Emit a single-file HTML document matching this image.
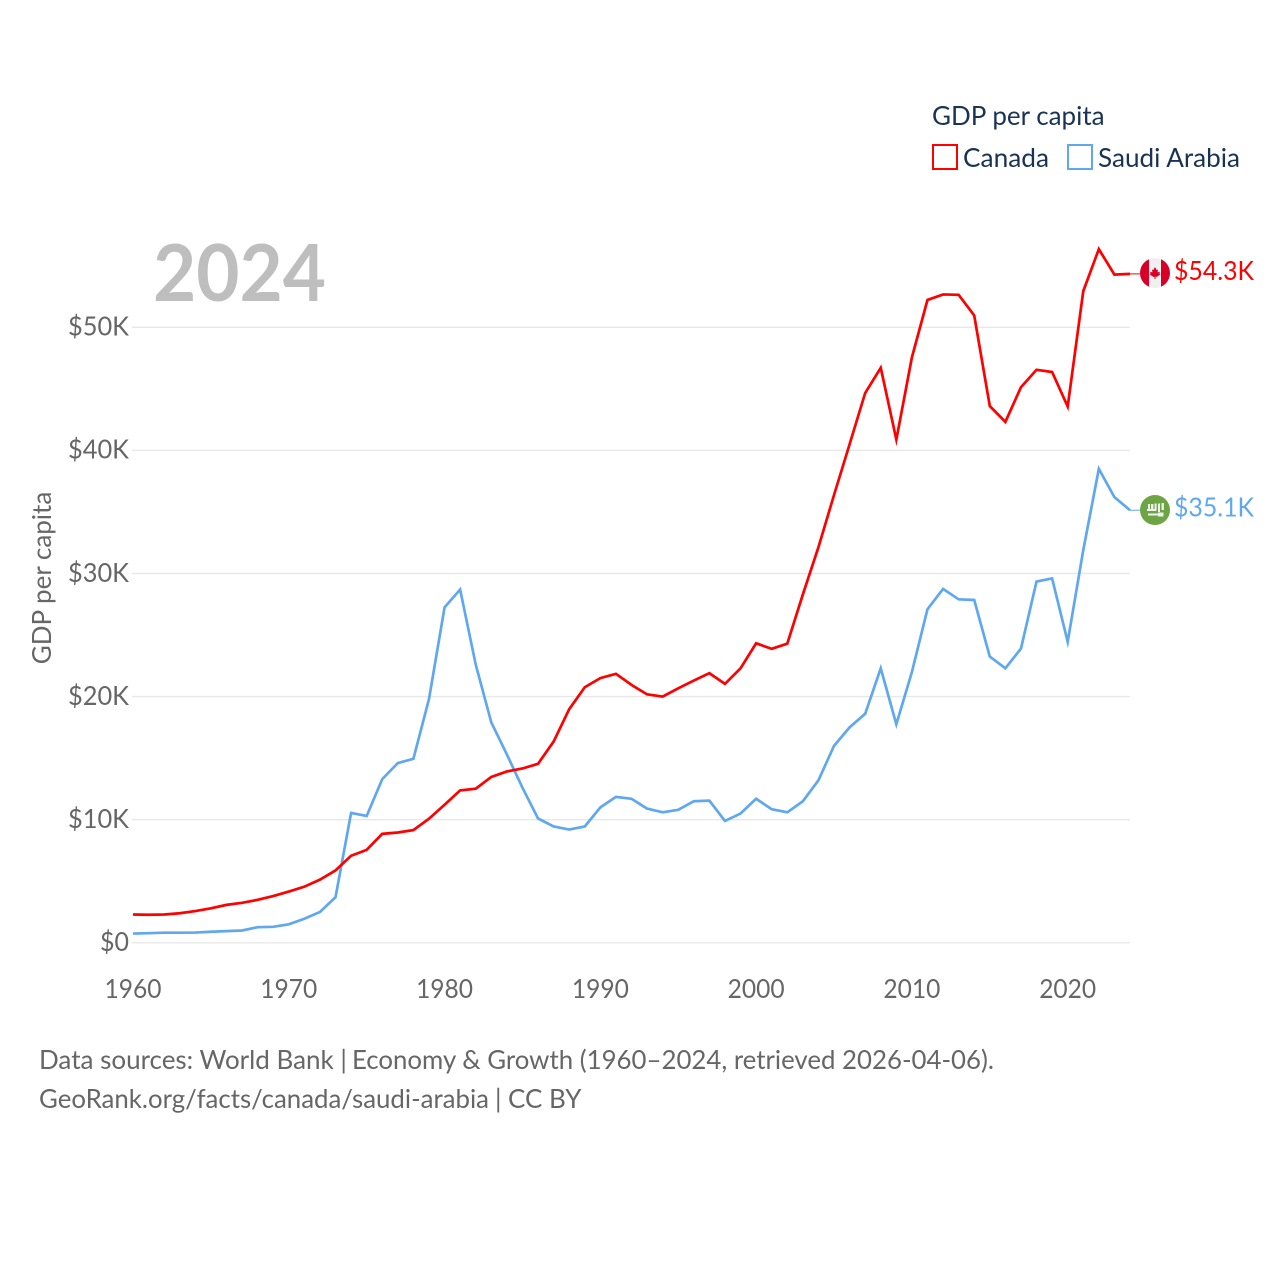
<!DOCTYPE html>
<html lang="en">
<head>
<meta charset="utf-8">
<title>GDP per capita: Canada and Saudi Arabia</title>
<style>
html,body{margin:0;padding:0;background:#fff;}
svg{display:block;font-family:"Lato","Carlito","Liberation Sans",sans-serif;}
</style>
</head>
<body>
<svg id="chart" xmlns="http://www.w3.org/2000/svg" width="1280" height="1280" viewBox="0 0 1280 1280">
  <rect x="0" y="0" width="1280" height="1280" fill="#fff"/>
  <g id="grid"></g>
  <g id="yticks"></g>
  <g id="xticks"></g>
  <text transform="translate(51,578) rotate(-90)" text-anchor="middle" font-size="26" fill="#666">GDP per capita</text>
  <text x="153" y="301" font-size="79" font-weight="700" fill="#bebebe" textLength="173" lengthAdjust="spacingAndGlyphs">2024</text>
  <g id="series"></g>
  <g>
    <text x="932" y="125" font-size="26" fill="#1a3354">GDP per capita</text>
    <g>
      <rect x="933" y="145" width="24" height="24" fill="#fff" stroke="#ff0000" stroke-width="2"/>
      <text x="963" y="167" font-size="26" fill="#1a3354" textLength="86" lengthAdjust="spacingAndGlyphs">Canada</text>
    </g>
    <g>
      <rect x="1068" y="145" width="24" height="24" fill="#fff" stroke="#5fa8ef" stroke-width="2"/>
      <text x="1098" y="167" font-size="26" fill="#1a3354" textLength="142" lengthAdjust="spacingAndGlyphs">Saudi Arabia</text>
    </g>
  </g>
  <g>
    <clipPath id="clipCa"><circle cx="1155" cy="273" r="15"/></clipPath>
    <g clip-path="url(#clipCa)">
      <rect x="1140" y="258" width="30" height="30" fill="#f0f0f0"/>
      <rect x="1140" y="258" width="9" height="30" fill="#d80027"/>
      <rect x="1161" y="258" width="9" height="30" fill="#d80027"/>
      <polygon fill="#d80027" points="1155,267 1156.6,270 1158,269.5 1157.6,272.4 1160,271.6 1159.4,273.4 1160.4,274.4 1156.4,277 1155.5,276.6 1155.5,279 1154.5,279 1154.5,276.6 1153.6,277 1149.6,274.4 1150.6,273.4 1150,271.6 1152.4,272.4 1152,269.5 1153.4,270"/>
    </g>
  </g>
  <g>
    <circle cx="1155" cy="510" r="15" fill="#6da544"/>
    <g fill="#f0f0f0">
      <rect x="1147" y="509" width="9" height="2"/>
      <rect x="1148" y="504" width="2" height="5"/>
      <rect x="1151" y="504" width="2.4" height="6"/>
      <rect x="1154.6" y="503.5" width="2" height="7"/>
      <rect x="1158" y="503.5" width="2" height="8.5"/>
      <rect x="1161.5" y="503" width="2.4" height="7"/>
      <rect x="1148" y="513.5" width="15" height="2"/>
      <rect x="1158" y="512.5" width="5.5" height="4"/>
    </g>
  </g>
  <g id="endLabels"></g>
  <g>
    <text x="39" y="1069" font-size="26" fill="#666">Data sources: World Bank |</text>
    <text x="352" y="1069" font-size="26" fill="#666" textLength="642" lengthAdjust="spacingAndGlyphs">Economy &amp; Growth (1960–2024, retrieved 2026-04-06).</text>
    <text x="39" y="1108" font-size="26" fill="#666" textLength="450" lengthAdjust="spacingAndGlyphs">GeoRank.org/facts/canada/saudi-arabia</text>
    <text x="495" y="1108" font-size="26" fill="#666">|</text>
    <text x="508" y="1108" font-size="26" fill="#666">CC BY</text>
  </g>
</svg>
<script>
const startYear = 1960;
const canada = [2.3,2.28,2.3,2.4,2.58,2.8,3.08,3.25,3.49,3.8,4.16,4.56,5.13,5.88,7.07,7.55,8.85,8.96,9.16,10.08,11.21,12.38,12.52,13.47,13.92,14.16,14.54,16.35,18.98,20.76,21.5,21.85,20.95,20.18,20.0,20.67,21.3,21.9,21.03,22.3,24.33,23.88,24.3,28.3,32.14,36.38,40.5,44.66,46.71,40.88,47.56,52.22,52.67,52.64,50.96,43.6,42.32,45.13,46.55,46.37,43.56,52.94,56.35,54.28,54.34];
const saudi = [0.75,0.78,0.82,0.82,0.83,0.9,0.95,1.0,1.27,1.3,1.5,1.95,2.5,3.7,10.55,10.3,13.3,14.6,14.95,19.8,27.25,28.7,22.6,17.9,15.3,12.6,10.1,9.45,9.2,9.45,11.0,11.85,11.7,10.9,10.6,10.8,11.5,11.55,9.9,10.5,11.7,10.85,10.6,11.5,13.2,16.0,17.5,18.6,22.3,17.75,22.0,27.1,28.75,27.9,27.85,23.25,22.3,23.9,29.35,29.6,24.45,31.9,38.5,36.2,35.14];
const yTickValues = [0,10,20,30,40,50];
const yTickLabels = ["$0","$10K","$20K","$30K","$40K","$50K"];
const xTickValues = [1960,1970,1980,1990,2000,2010,2020];
const xTickLabels = ["1960","1970","1980","1990","2000","2010","2020"];

const NS = "http://www.w3.org/2000/svg";
const plotLeft = 133, plotRight = 1130, plotBottom = 942.8, pxPerK = 12.31, endYear = 2024;
function xScale(year){ return plotLeft + (year - startYear) * (plotRight - plotLeft) / (endYear - startYear); }
function yScale(v){ return plotBottom - v * pxPerK; }
function make(tag, attrs, parent, txt){
  const el = document.createElementNS(NS, tag);
  for (const k in attrs) el.setAttribute(k, attrs[k]);
  if (txt !== undefined) el.textContent = txt;
  parent.appendChild(el);
  return el;
}
const gridG = document.getElementById("grid");
const yG = document.getElementById("yticks");
const xG = document.getElementById("xticks");
const seriesG = document.getElementById("series");
const endG = document.getElementById("endLabels");

yTickValues.forEach(function(v, i){
  const line = make("line", {x1: plotLeft - 1, x2: plotRight, y1: yScale(v), y2: yScale(v), stroke: "#e8e8e8", "stroke-width": 1.4}, gridG);
  
  
  const t = make("text", {x: 129, y: yScale(v) + 8.3, "text-anchor": "end", "font-size": 26, fill: "#666"}, yG, yTickLabels[i]);
  
  
  t.setAttribute("textLength", yTickLabels[i].length > 2 ? 61 : 29);
  t.setAttribute("lengthAdjust", "spacingAndGlyphs");
});
xTickValues.forEach(function(v, i){
  const t = make("text", {x: xScale(v), y: 998, "text-anchor": "middle", "font-size": 26, fill: "#666"}, xG, xTickLabels[i]);
  
  
  t.setAttribute("textLength", 57);
  t.setAttribute("lengthAdjust", "spacingAndGlyphs");
});
function drawSeries(values, color, lineName, connectorName, labelName){
  const pts = values.map(function(v, i){ return xScale(startYear + i).toFixed(2) + "," + yScale(v).toFixed(2); }).join(" ");
  const line = make("polyline", {points: pts, fill: "none", stroke: color, "stroke-width": 2.7, "stroke-linejoin": "miter", "stroke-miterlimit": 10}, seriesG);
  
  
  const last = values[values.length - 1];
  const yEnd = yScale(last);
  const conn = make("line", {x1: plotRight, x2: 1140, y1: yEnd, y2: yEnd, stroke: color, "stroke-width": 1}, seriesG);
  
  
  const label = make("text", {x: 1174, y: yEnd + 6.2, "font-size": 26, fill: color}, endG, "$" + last.toFixed(1) + "K");
  
  
  label.setAttribute("textLength", 80);
  label.setAttribute("lengthAdjust", "spacingAndGlyphs");
}
drawSeries(saudi, "#5fa8ef", "line-saudi-arabia", "connector-saudi-arabia", "value-label-saudi-arabia");
drawSeries(canada, "#ff0000", "line-canada", "connector-canada", "value-label-canada");
</script>
</body>
</html>
